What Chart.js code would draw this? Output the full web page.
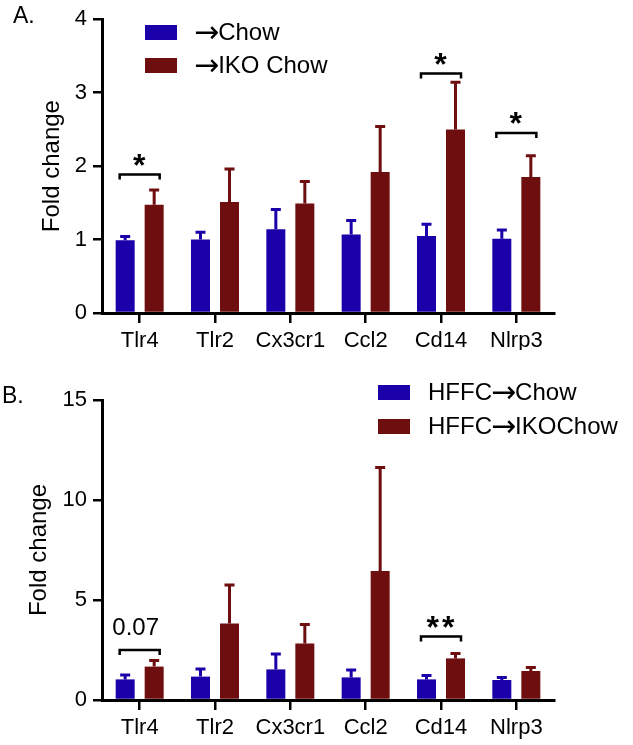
<!DOCTYPE html>
<html>
<head>
<meta charset="utf-8">
<script src="https://cdn.jsdelivr.net/npm/chart.js@4/dist/chart.umd.min.js"></script>
<style>
  body { margin: 0; background: #fff; }
  canvas { position: absolute; left: 0; }
  #chartA { top: 0; }
  #chartB { top: 350px; }
</style>
</head>
<body>
<canvas id="chartA" width="633" height="350"></canvas>
<canvas id="chartB" width="633" height="395"></canvas>
<script>
const genes = ["Tlr4", "Tlr2", "Cx3cr1", "Ccl2", "Cd14", "Nlrp3"];

// panel A
const chowA = [0.99, 1.0, 1.14, 1.07, 1.05, 1.01];
const chowErrA = [0.05, 0.1, 0.27, 0.19, 0.16, 0.12];
const ikoA = [1.475, 1.51, 1.49, 1.92, 2.5, 1.85];
const ikoErrA = [0.2, 0.45, 0.3, 0.62, 0.64, 0.29];
const sigA = [
  { gene: "Tlr4", at: 1.885, text: "*" },
  { gene: "Cd14", at: 3.26, text: "*" },
  { gene: "Nlrp3", at: 2.45, text: "*" },
];

// panel B
const chowB = [1.03, 1.17, 1.53, 1.13, 1.03, 1.0];
const chowErrB = [0.22, 0.38, 0.77, 0.37, 0.19, 0.12];
const ikoB = [1.67, 3.83, 2.83, 6.45, 2.08, 1.45];
const ikoErrB = [0.3, 1.92, 0.95, 5.18, 0.25, 0.17];
const sigB = [
  { gene: "Tlr4", at: 2.5, text: "0.07" },
  { gene: "Cd14", at: 3.17, text: "**" },
];

const BLUE = "#1b00a9";
const RED = "#6e0e0f";
const FONT = "'Liberation Sans', Arial, sans-serif";
const ARROW_FONT = "30px 'DejaVu Sans', sans-serif";

Chart.defaults.color = "#000";
Chart.defaults.font.family = FONT;

// legend text with a wider arrow glyph than Liberation has
function drawLabel(ctx, text, x, y) {
  const parts = text.split("\u2192");
  ctx.font = "24px " + FONT;
  ctx.fillText(parts[0], x, y);
  x += ctx.measureText(parts[0]).width;
  ctx.font = ARROW_FONT;
  ctx.fillText("\u2192", x - 1, y + 1);
  x += ctx.measureText("\u2192").width - 2;
  ctx.font = "24px " + FONT;
  ctx.fillText(parts[1], x, y);
}

// error bars, significance brackets, legend and panel letter
const extras = {
  id: "extras",
  afterDatasetsDraw(chart, args, opts) {
    const ctx = chart.ctx;
    const y = chart.scales.y;
    const x = chart.scales.x;
    ctx.save();

    chart.data.datasets.forEach((ds, di) => {
      const meta = chart.getDatasetMeta(di);
      meta.data.forEach((bar, i) => {
        const top = y.getPixelForValue(ds.data[i] + opts.errors[di][i]);
        ctx.strokeStyle = ds.backgroundColor;
        ctx.lineWidth = 3;
        ctx.beginPath();
        ctx.moveTo(bar.x, bar.y);
        ctx.lineTo(bar.x, top);
        ctx.moveTo(bar.x - 5, top);
        ctx.lineTo(bar.x + 5, top);
        ctx.stroke();
      });
    });

    ctx.strokeStyle = "#000";
    ctx.fillStyle = "#000";
    ctx.lineWidth = 2.5;
    ctx.textAlign = "center";
    ctx.textBaseline = "alphabetic";
    opts.sig.forEach((s) => {
      const cx = x.getPixelForValue(genes.indexOf(s.gene));
      const by = y.getPixelForValue(s.at);
      ctx.beginPath();
      ctx.moveTo(cx - 20, by + 5);
      ctx.lineTo(cx - 20, by);
      ctx.lineTo(cx + 20, by);
      ctx.lineTo(cx + 20, by + 5);
      ctx.stroke();
      if (s.text.startsWith("*")) {
        ctx.font = "bold 32px " + FONT;
        ctx.letterSpacing = "3px";
        ctx.fillText(s.text, cx + 1, by + 1);
        ctx.letterSpacing = "0px";
      } else {
        ctx.font = "24px " + FONT;
        ctx.fillText(s.text, cx - 4, by - 15);
      }
    });

    // legend
    const lg = opts.legend;
    ctx.textAlign = "left";
    ctx.textBaseline = "middle";
    chart.data.datasets.forEach((ds, di) => {
      const top = lg.y + di * lg.step;
      ctx.fillStyle = ds.backgroundColor;
      ctx.fillRect(lg.x, top, 32, 15);
      ctx.fillStyle = "#000";
      drawLabel(ctx, ds.label, lg.textX, top + 8);
    });

    // panel letter
    ctx.font = "23px " + FONT;
    ctx.textBaseline = "alphabetic";
    ctx.fillText(opts.panel.text, opts.panel.x, opts.panel.y);
    ctx.restore();
  },
};

function makeChart(id, d) {
  return new Chart(document.getElementById(id), {
    type: "bar",
    data: {
      labels: genes,
      datasets: [
        { label: d.labels[0], data: d.chow, backgroundColor: BLUE },
        { label: d.labels[1], data: d.iko, backgroundColor: RED },
      ],
    },
    options: {
      responsive: false,
      animation: false,
      devicePixelRatio: 1,
      categoryPercentage: 0.77,
      barPercentage: 0.655,
      layout: { padding: { top: d.padTop, right: 79, left: 0, bottom: 0 } },
      plugins: {
        legend: { display: false },
        tooltip: { enabled: false },
        extras: {
          errors: [d.chowErr, d.ikoErr],
          sig: d.sig,
          legend: d.legend,
          panel: d.panel,
        },
      },
      scales: {
        x: {
          grid: {
            offset: false,
            drawOnChartArea: false,
            color: "#000",
            lineWidth: 2.5,
            tickLength: 10,
          },
          border: { color: "#000", width: 3 },
          ticks: { font: { size: 22 }, padding: 5, maxRotation: 0 },
          afterFit: (s) => { s.height = d.xHeight; },
        },
        y: {
          min: 0,
          max: d.max,
          grid: {
            drawOnChartArea: false,
            color: "#000",
            lineWidth: 2.5,
            tickLength: 9,
          },
          border: { color: "#000", width: 3 },
          ticks: { stepSize: d.step, font: { size: 22 }, padding: 6 },
          title: {
            display: true,
            text: "Fold change",
            font: { size: 24, lineHeight: 1 },
            padding: { top: d.titlePad, bottom: 0 },
          },
          afterFit: (s) => { s.width = 102; },
        },
      },
    },
    plugins: [extras],
  });
}

makeChart("chartA", {
  labels: ["\u2192Chow", "\u2192IKO Chow"],
  chow: chowA, chowErr: chowErrA,
  iko: ikoA, ikoErr: ikoErrA,
  sig: sigA,
  max: 4, step: 1,
  padTop: 14, xHeight: 37, titlePad: 40,
  legend: { x: 145, y: 25, step: 33, textX: 195 },
  panel: { text: "A.", x: 13, y: 23 },
});

makeChart("chartB", {
  labels: ["HFFC\u2192Chow", "HFFC\u2192IKOChow"],
  chow: chowB, chowErr: chowErrB,
  iko: ikoB, ikoErr: ikoErrB,
  sig: sigB,
  max: 15, step: 5,
  padTop: 50, xHeight: 45, titlePad: 27,
  legend: { x: 378, y: 35, step: 34, textX: 428 },
  panel: { text: "B.", x: 2, y: 53 },
});
</script>
</body>
</html>
